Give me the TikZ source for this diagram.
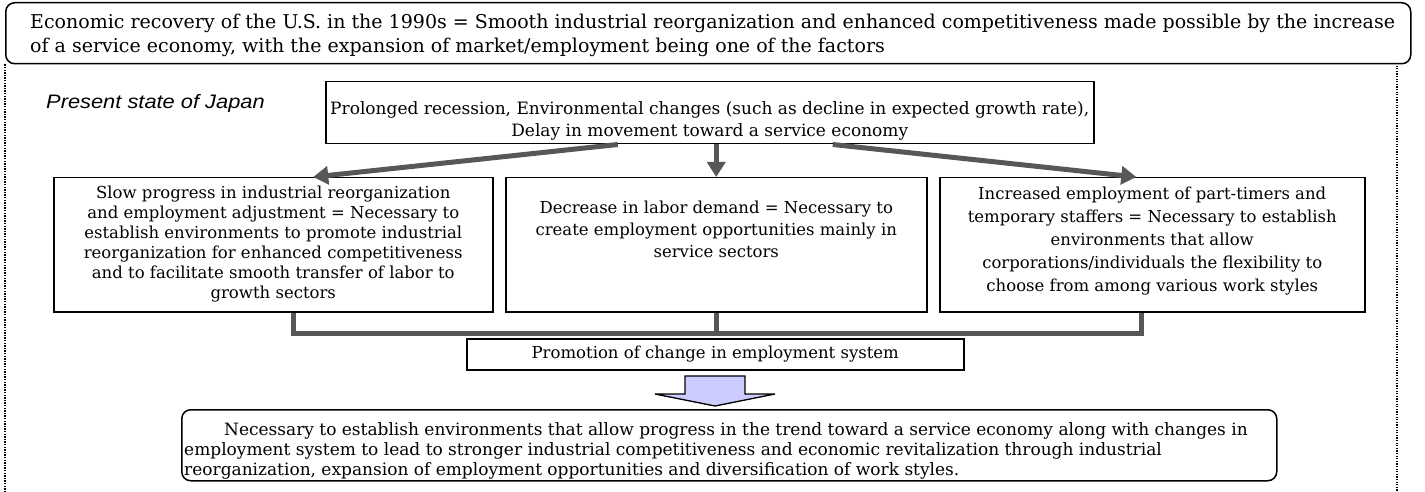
\documentclass[tikz,border=0pt]{standalone}
\usepackage{fontspec}
\setmainfont{DejaVu Serif}
\newfontfamily\presfont[FakeStretch=1.12]{Liberation Sans}
\usetikzlibrary{arrows.meta}
\definecolor{flowgray}{HTML}{575757}
\definecolor{lavender}{HTML}{CCCCFF}
\begin{document}
\begin{tikzpicture}[x=1pt,y=-1pt,
  box/.style={draw=black,line width=1.5pt,inner sep=0pt},
  txt/.style={align=center,inner sep=0pt,font=\fontsize{16.5}{22}\selectfont},
  conn/.style={draw=flowgray,line width=5pt},
  flow/.style={draw=flowgray,line width=5pt,-{Triangle[width=18pt,length=15pt]}},
  dots/.style={line width=1.3pt,dash pattern=on 1.3pt off 1.3pt}
]
\useasboundingbox (0,0) rectangle (1425,492);

% top statement
\node[box,rounded corners=9pt,minimum width=1405pt,minimum height=61pt,anchor=north west] (top) at (5,2) {};
\node[anchor=north west,align=left,inner sep=0pt,font=\fontsize{19}{24}\selectfont] (toptext) at (30,13.5)
 {Economic recovery of the U.S. in the 1990s = Smooth industrial reorganization and enhanced competitiveness made possible by the increase\\
  of a service economy, with the expansion of market/employment being one of the factors};

% dotted frame
\coordinate (dl) at (5,492);
\coordinate (dr1) at (1397,63);
\coordinate (dr2) at (1397,492);
\draw[dots] (top.south west) -- (dl);
\draw[dots] (dr1) -- (dr2);

% present state label
\node[anchor=base west,inner sep=0pt,font=\presfont\itshape\fontsize{19.5}{22}\selectfont] (pres) at (46,109) {Present state of Japan};

% prolonged recession box
\node[box,minimum width=768pt,minimum height=62pt,anchor=north west] (prol) at (325,81) {};
\node[txt,font=\fontsize{17}{22}\selectfont,anchor=north] (proltext) at ([yshift=-20pt]prol.north)
 {Prolonged recession, Environmental changes (such as decline in expected growth rate),\\
  Delay in movement toward a service economy};

% three boxes
\node[box,minimum width=439pt,minimum height=134pt,anchor=north west] (lbox) at (53,177) {};
\node[box,minimum width=421pt,minimum height=134pt,anchor=north west] (mbox) at (505,177) {};
\node[box,minimum width=425pt,minimum height=134pt,anchor=north west] (rbox) at (939,177) {};

\node[txt,font=\fontsize{16.5}{20}\selectfont,anchor=north] (ltext) at ([yshift=-9pt]lbox.north)
 {Slow progress in industrial reorganization\\
  and employment adjustment = Necessary to\\
  establish environments to promote industrial\\
  reorganization for enhanced competitiveness\\
  and to facilitate smooth transfer of labor to\\
  growth sectors};
\node[txt,anchor=north] (mtext) at ([yshift=-24pt]mbox.north)
 {Decrease in labor demand = Necessary to\\
  create employment opportunities mainly in\\
  service sectors};
\node[txt,font=\fontsize{16.5}{23}\selectfont,anchor=north] (rtext) at ([yshift=-10pt]rbox.north)
 {Increased employment of part-timers and\\
  temporary staffers = Necessary to establish\\
  environments that allow\\
  corporations/individuals the flexibility to\\
  choose from among various work styles};

% arrows from the top box
\draw[flow] ([xshift=-92pt]prol.south) -- ([xshift=40pt]lbox.north);
\draw[flow] (prol.south -| mbox.north) -- (mbox.north);
\draw[flow] ([xshift=123pt]prol.south) -- ([xshift=-16pt]rbox.north);

% joining connectors
\coordinate (jl) at (293,333);
\coordinate (jr) at (1141,333);
\draw[conn] (lbox.south -| jl) -- (jl) -- (jr) -- (rbox.south -| jr);
\draw[conn] (mbox.south) -- (mbox.south |- jl);

% promotion box
\node[box,minimum width=497pt,minimum height=31pt,anchor=north west] (prom) at (466,338) {};
\node[txt] (promtext) at (prom.center) {Promotion of change in employment system};

% block arrow
\draw[line width=1.3pt,fill=lavender] (685,376) -- (745,376) -- (745,394) -- (775,394) -- (715,406) -- (655,394) -- (685,394) -- cycle;

% conclusion box
\node[box,rounded corners=9pt,minimum width=1095pt,minimum height=71pt,anchor=north west] (concl) at (181,409) {};
\node[anchor=north west,align=left,inner sep=0pt,font=\fontsize{17}{20}\selectfont] (concltext) at (184,422)
 {\hspace*{40pt}Necessary to establish environments that allow progress in the trend toward a service economy along with changes in\\
  employment system to lead to stronger industrial competitiveness and economic revitalization through industrial\\
  reorganization, expansion of employment opportunities and diversification of work styles.};
\end{tikzpicture}
\end{document}
